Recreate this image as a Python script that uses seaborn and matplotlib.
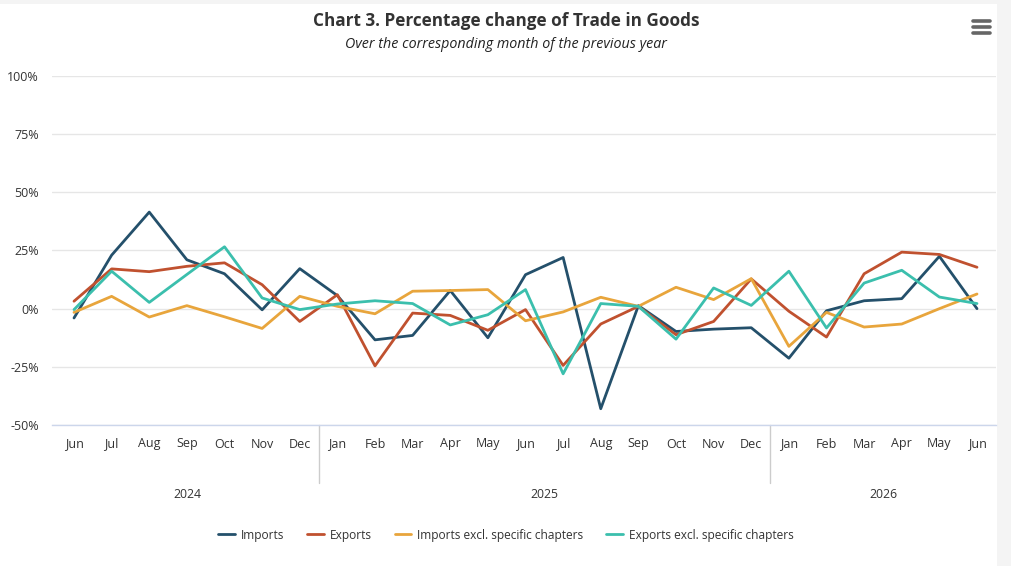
import matplotlib
matplotlib.use("Agg")
import matplotlib.pyplot as plt
import matplotlib.transforms as mtransforms
from matplotlib.lines import Line2D
from matplotlib.patches import Rectangle
import seaborn as sns
import pandas as pd

months = ["Jun", "Jul", "Aug", "Sep", "Oct", "Nov", "Dec",
          "Jan", "Feb", "Mar", "Apr", "May", "Jun", "Jul", "Aug", "Sep", "Oct", "Nov", "Dec",
          "Jan", "Feb", "Mar", "Apr", "May", "Jun"]
years = ["2024", "2025", "2026"]
year_groups = [(0, 6), (7, 18), (19, 24)]

imports = [-4.0, 23.0, 41.5, 21.0, 15.0, -0.5, 17.2, 5.6, -13.4, -11.5, 7.8, -12.5,
           14.6, 22.0, -43.0, 1.3, -9.8, -8.8, -8.2, -21.3, -0.9, 3.4, 4.3, 22.5, 0.0]
exports = [3.2, 17.1, 15.9, 18.2, 19.7, 10.3, -5.5, 6.0, -24.6, -1.9, -2.9, -9.3,
           -0.4, -24.4, -6.6, 1.0, -11.2, -5.5, 12.8, -1.1, -12.2, 15.0, 24.3, 23.3, 17.8]
imports_excl = [-1.6, 5.3, -3.6, 1.3, -3.5, -8.5, 5.3, 1.0, -2.2, 7.5, 7.8, 8.2,
                -5.2, -1.4, 4.9, 1.0, 9.2, 3.9, 12.9, -16.2, -1.6, -7.9, -6.6, 0.0, 6.3]
exports_excl = [-0.4, 16.1, 2.7, 14.7, 26.6, 4.6, -0.4, 2.0, 3.4, 2.2, -7.0, -2.6,
                8.2, -28.0, 2.2, 1.0, -13.1, 8.9, 1.4, 16.1, -8.3, 11.0, 16.5, 5.0, 2.2]

series_names = ["Imports", "Exports", "Imports excl. specific chapters", "Exports excl. specific chapters"]
series_values = [imports, exports, imports_excl, exports_excl]
colors = ["#24506b", "#c0512f", "#e8a53c", "#3bbfad"]

rows = []
for name, vals in zip(series_names, series_values):
    for i, v in enumerate(vals):
        rows.append({"idx": i, "value": v, "series": name})
df = pd.DataFrame(rows)

sns.set_theme(style="white")
plt.rcParams["font.family"] = ["Open Sans", "DejaVu Sans"]

W, H = 1012, 566
fig = plt.figure(figsize=(W / 100, H / 100), dpi=100)
fig.patch.set_facecolor("#f4f4f4")
fig.add_artist(Rectangle((0, 0), 997 / W, (H - 4) / H, transform=fig.transFigure,
                         facecolor="white", edgecolor="none", zorder=-10))

ax = fig.add_axes([52 / W, (H - 425) / H, (996 - 52) / W, (425 - 76) / H])
ax.set_facecolor("white")

sns.lineplot(data=df, x="idx", y="value", hue="series", hue_order=series_names,
             palette=colors, linewidth=2, ax=ax, legend=False, zorder=3)

ax.set_xlim(-0.585, 24.505)
ax.set_ylim(-50, 100)
ax.set_yticks([-50, -25, 0, 25, 50, 75, 100])
ax.set_yticklabels([f"{t}%" for t in [-50, -25, 0, 25, 50, 75, 100]])
ax.set_xticks(range(len(months)))
ax.set_xticklabels(months)
ax.tick_params(axis="both", length=0, labelsize=9, colors="#333333")
ax.tick_params(axis="x", pad=9)
ax.tick_params(axis="y", pad=9.5)
ax.grid(axis="y", color="#e6e6e6", linewidth=1)
ax.grid(axis="x", visible=False)
for s in ["top", "right", "left"]:
    ax.spines[s].set_visible(False)
ax.spines["bottom"].set_color("#ccd6eb")
ax.spines["bottom"].set_linewidth(1)
ax.set_xlabel("")
ax.set_ylabel("")

trans = mtransforms.blended_transform_factory(ax.transData, ax.transAxes)
drop = 58 / (425 - 76)
for (a, b) in year_groups[:-1]:
    xs = b + 0.5
    ax.add_line(Line2D([xs, xs], [0, -drop], transform=trans, color="#cccccc",
                       linewidth=1, clip_on=False))
for yr, (a, b) in zip(years, year_groups):
    ax.text((a + b) / 2, -70 / (425 - 76), yr, transform=trans, ha="center", va="center",
            fontsize=8.8, color="#333333")

fig.text(0.5, 1 - 21 / H, "Chart 3. Percentage change of Trade in Goods", ha="center",
         va="center", fontsize=12.3, fontweight="bold", color="#333333")
fig.text(0.5, 1 - 45 / H, "Over the corresponding month of the previous year", ha="center",
         va="center", fontsize=10.25, style="italic", color="#222222")

# menu icon
for yy in [21, 27, 33]:
    fig.add_artist(Line2D([973 / W, 990 / W], [1 - yy / H, 1 - yy / H], transform=fig.transFigure,
                          color="#666666", linewidth=2.6, solid_capstyle="round"))

handles = [Line2D([0], [0], color=c, linewidth=2) for c in colors]
fig.legend(handles, series_names, loc="center", bbox_to_anchor=(0.5, 1 - 535 / H), ncol=4,
           frameon=False, fontsize=8.6, handlelength=1.4, handletextpad=0.5, columnspacing=1.9,
           labelcolor="#333333")

fig.savefig("out.png", dpi=100)
